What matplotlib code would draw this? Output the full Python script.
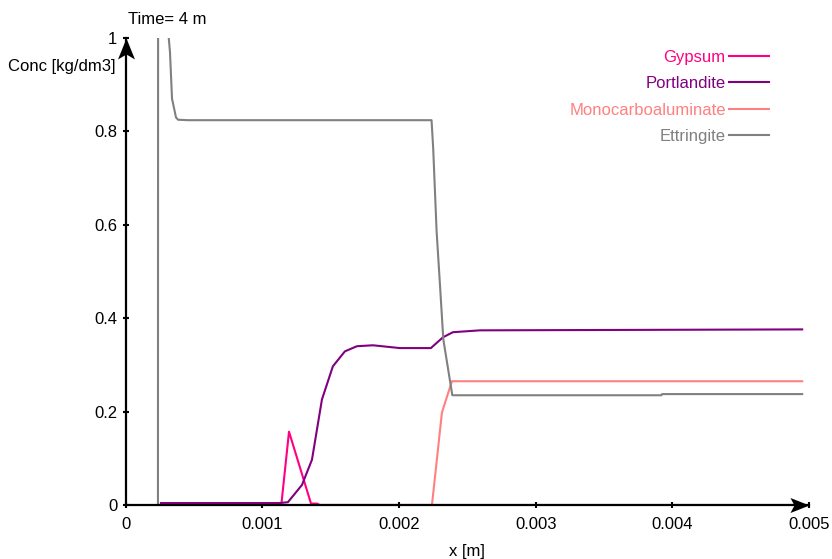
import matplotlib
matplotlib.use("Agg")
import matplotlib.pyplot as plt
from matplotlib.path import Path

plt.rcParams["font.family"] = ["Liberation Sans", "DejaVu Sans"]
plt.rcParams["font.size"] = 12

# values
gypsum_x = [0.000258, 0.00112, 0.00114, 0.001195, 0.001356, 0.00140, 0.00142, 0.00495]
gypsum_y = [0.004, 0.004, 0.004, 0.157, 0.003, 0.003, 0.0, 0.0]

portlandite_x = [0.000258, 0.00112, 0.001187, 0.00129, 0.001363, 0.001436, 0.001516,
                 0.001604, 0.001692, 0.001809, 0.002007, 0.002233, 0.002321, 0.002394,
                 0.002592, 0.00495]
portlandite_y = [0.004, 0.004, 0.006, 0.043, 0.097, 0.226, 0.297,
                 0.329, 0.340, 0.342, 0.336, 0.336, 0.359, 0.370,
                 0.374, 0.376]

monocarbo_x = [0.000258, 0.002241, 0.002314, 0.002387, 0.00495]
monocarbo_y = [0.0, 0.0, 0.198, 0.265, 0.265]

ettringite_x = [0.000236, 0.00024, 0.000315, 0.000324, 0.000339, 0.000368, 0.000383,
                0.000456, 0.002238, 0.00225, 0.002275, 0.0023, 0.002324, 0.00239,
                0.00392, 0.003925, 0.00495]
ettringite_y = [0.0, 4.0, 1.0, 0.97, 0.87, 0.83, 0.825,
                0.824, 0.824, 0.764, 0.586, 0.47, 0.355, 0.235,
                0.235, 0.2375, 0.2375]

series = [
    ("Gypsum", gypsum_x, gypsum_y, "#ff0080"),
    ("Portlandite", portlandite_x, portlandite_y, "#800080"),
    ("Monocarboaluminate", monocarbo_x, monocarbo_y, "#ff8080"),
    ("Ettringite", ettringite_x, ettringite_y, "#808080"),
]

x_ticks = [0, 0.001, 0.002, 0.003, 0.004, 0.005]
x_tick_labels = ["0", "0.001", "0.002", "0.003", "0.004", "0.005"]
y_ticks = [0, 0.2, 0.4, 0.6, 0.8, 1.0]
y_tick_labels = ["0", "0.2", "0.4", "0.6", "0.8", "1"]

fig = plt.figure(figsize=(8.32, 5.59), dpi=100)
ax = fig.add_axes([125.7 / 832, 1 - 505 / 559, (809 - 125.7) / 832, (505 - 38) / 559])

for name, xs, ys, col in series:
    ax.plot(xs, ys, color=col, lw=1.5, label=name)

ax.set_xlim(0, 0.005)
ax.set_ylim(0, 1)
ax.set_xticks(x_ticks)
ax.set_xticklabels(x_tick_labels)
ax.set_yticks(y_ticks)
ax.set_yticklabels(y_tick_labels)
ax.tick_params(direction="inout", length=5, width=1.5, labelsize=12)
ax.tick_params(axis="x", pad=6)

for s in ["top", "right"]:
    ax.spines[s].set_visible(False)
for s in ["left", "bottom"]:
    ax.spines[s].set_linewidth(1.6)

# dart-shaped arrow heads, tip at the marker origin
right_head = Path([(0, 0), (-19, 7.5), (-15, 0), (-19, -7.5), (0, 0)],
                  [Path.MOVETO, Path.LINETO, Path.LINETO, Path.LINETO, Path.CLOSEPOLY])
up_head = Path([(0, 0), (-8.5, -21), (0, -16), (8.5, -21), (0, 0)],
               [Path.MOVETO, Path.LINETO, Path.LINETO, Path.LINETO, Path.CLOSEPOLY])
ax.plot([1], [0], marker=right_head, ms=27.4, color="black", mew=0,
        transform=ax.transAxes, clip_on=False, zorder=5)
ax.plot([0], [1], marker=up_head, ms=30.2, color="black", mew=0,
        transform=ax.transAxes, clip_on=False, zorder=5)

ax.set_xlabel("x [m]", labelpad=9)
fig.text(8 / 832, 1 - 67 / 559, "Conc [kg/dm3]", ha="left", va="center")
fig.text(128 / 832, 1 - 20 / 559, "Time= 4 m", ha="left", va="center")

ax.legend(loc="upper right", bbox_to_anchor=(769 / 832, 1 - 50 / 559),
          bbox_transform=fig.transFigure, frameon=False, markerfirst=False,
          labelcolor="linecolor", handlelength=2.4, handletextpad=0.2,
          labelspacing=0.68, borderpad=0, borderaxespad=0)

fig.savefig("out.png", dpi=100)
